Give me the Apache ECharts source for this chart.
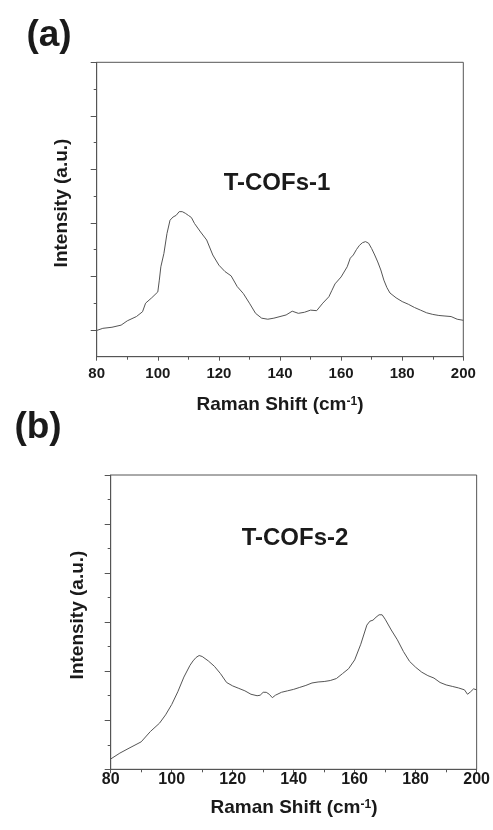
<!DOCTYPE html>
<html><head><meta charset="utf-8">
<script src="https://cdn.jsdelivr.net/npm/echarts@6/dist/echarts.min.js"></script>
<style>html,body{margin:0;padding:0;background:#fff}#c{width:493px;height:830px}</style>
</head><body><div id="c"></div>
<script>
// Panel (a) T-COFs-1
const shiftA = [80,82,85,88,90,93,95,96,98,100,100.5,101,102,103,104,105,106,107,108,109,110,111,112,114,116,118,120,122,124,126,128,130,132,134,136,138,140,142,144,146,148,150,152,154,156,157,158,160,162,163,164,165,166,167,168,169,170,171,172,173,174,175,176,178,180,182,184,186,188,190,192,194,196,198,200];
const intensityA = [0.49,0.53,0.55,0.59,0.67,0.75,0.84,1.00,1.10,1.21,1.43,1.68,1.93,2.30,2.55,2.61,2.64,2.71,2.71,2.68,2.64,2.60,2.49,2.33,2.18,1.90,1.71,1.59,1.51,1.31,1.18,1.00,0.81,0.72,0.70,0.72,0.75,0.78,0.85,0.81,0.83,0.87,0.86,1.00,1.12,1.24,1.36,1.49,1.68,1.84,1.90,2.00,2.08,2.13,2.15,2.12,2.02,1.90,1.77,1.62,1.43,1.29,1.19,1.10,1.03,0.98,0.92,0.87,0.82,0.79,0.77,0.76,0.75,0.70,0.68];
// Panel (b) T-COFs-2
const shiftB = [80,83,86,90,93,96,98,100,102,104,106,107,108,109,110,112,114,116,118,120,122,124,126,128,129,130,131,132,133,134,136,138,140,142,144,146,148,150,152,154,156,158,160,162,164,165,166,167,168,169,170,172,174,176,178,180,182,184,186,188,190,192,194,196,197,198,199,200];
const intensityB = [0.21,0.33,0.43,0.56,0.77,0.94,1.11,1.32,1.58,1.88,2.12,2.21,2.28,2.32,2.30,2.21,2.10,1.95,1.77,1.70,1.65,1.60,1.53,1.50,1.51,1.57,1.57,1.53,1.46,1.51,1.57,1.60,1.63,1.67,1.71,1.76,1.78,1.79,1.81,1.85,1.95,2.05,2.23,2.55,2.94,3.02,3.04,3.10,3.15,3.15,3.06,2.84,2.64,2.40,2.20,2.08,1.98,1.91,1.86,1.77,1.72,1.69,1.66,1.62,1.53,1.58,1.64,1.62];
const xMajor = [80,100,120,140,160,180,200];
const yMajorA = [0.5,1.5,2.5,3.5,4.5,5.5];
const yMinorA = [1,2,3,4,5];
const yMajorB = [0,1,2,3,4,5,6];
const yMinorB = [0.5,1.5,2.5,3.5,4.5,5.5];

const FONT = '"Liberation Sans", Arial, Helvetica, sans-serif';
const AX = '#555';
const TXT = '#1a1a1a';

function pairs(xs, ys){ return xs.map((x,i)=>[x, ys[i]]); }

function xAxisFor(grid, margin, fs){
  return {
    type:'value', gridIndex:grid, min:80, max:200, interval:20,
    axisLine:{show:true, lineStyle:{color:AX, width:1}},
    axisTick:{show:true, inside:false, length:4, lineStyle:{color:AX}},
    minorTick:{show:true, splitNumber:2, length:3, lineStyle:{color:AX}},
    splitLine:{show:false},
    axisLabel:{show:true, margin:margin, color:TXT, fontFamily:FONT, fontWeight:'bold', fontSize:fs,
      customValues: xMajor, showMinLabel:true, showMaxLabel:true}
  };
}
function yAxisPair(grid, max, majors, minors){
  return [
    {type:'value', gridIndex:grid, min:0, max:max,
     axisLine:{show:true, lineStyle:{color:AX, width:1}},
     axisTick:{show:true, inside:false, length:6, customValues:majors, lineStyle:{color:AX}},
     axisLabel:{show:false}, splitLine:{show:false}},
    {type:'value', gridIndex:grid, min:0, max:max, position:'left', offset:0,
     axisLine:{show:false},
     axisTick:{show:true, inside:false, length:3, customValues:minors, lineStyle:{color:AX}},
     axisLabel:{show:false}, splitLine:{show:false}}
  ];
}

const chart = echarts.init(document.getElementById('c'), null, {renderer:'canvas'});
const yA = yAxisPair(0, 5.5, yMajorA, yMinorA);
const yB = yAxisPair(1, 6, yMajorB, yMinorB);

const titleStyle = {fontFamily:FONT, fontWeight:'bold', fill:TXT};
function xTitle(x, y){
  return {type:'text', x:x, y:y, style:{text:'{a|Raman Shift (cm}{s|-1}{a|)}', textAlign:'center', textVerticalAlign:'middle',
      rich:{a:{fontFamily:FONT, fontWeight:'bold', fontSize:19, fill:TXT, color:TXT},
            s:{fontFamily:FONT, fontWeight:'bold', fontSize:12, fill:TXT, color:TXT, verticalAlign:'top', lineHeight:12}}}};
}
chart.setOption({
  animation:false,
  backgroundColor:'#fff',
  grid:[
    {left:96.7, top:62.3, width:366.6, height:294.4, show:true, borderColor:AX, borderWidth:1, backgroundColor:'transparent'},
    {left:110.7, top:475, width:366.6, height:294.3, show:true, borderColor:AX, borderWidth:1, backgroundColor:'transparent'}
  ],
  xAxis:[xAxisFor(0, 10, 15), xAxisFor(1, 2, 16)],
  yAxis:[yA[0], yA[1], yB[0], yB[1]],
  series:[
    {type:'line', xAxisIndex:0, yAxisIndex:0, data:pairs(shiftA,intensityA), showSymbol:false, smooth:false,
     lineStyle:{color:'#555', width:1}},
    {type:'line', xAxisIndex:1, yAxisIndex:2, data:pairs(shiftB,intensityB), showSymbol:false, smooth:false,
     lineStyle:{color:'#555', width:1}}
  ],
  graphic:[
    {type:'text', x:49, y:36, style:Object.assign({text:'(a)', fontSize:37, textAlign:'center', textVerticalAlign:'middle'}, titleStyle)},
    {type:'text', x:38, y:428, style:Object.assign({text:'(b)', fontSize:37, textAlign:'center', textVerticalAlign:'middle'}, titleStyle)},
    {type:'text', x:277, y:183, style:Object.assign({text:'T-COFs-1', fontSize:24, textAlign:'center', textVerticalAlign:'middle'}, titleStyle)},
    {type:'text', x:295, y:538, style:Object.assign({text:'T-COFs-2', fontSize:24, textAlign:'center', textVerticalAlign:'middle'}, titleStyle)},
    {type:'text', x:62, y:203, rotation:Math.PI/2, style:Object.assign({text:'Intensity (a.u.)', fontSize:19, textAlign:'center', textVerticalAlign:'middle'}, titleStyle)},
    {type:'text', x:78, y:615, rotation:Math.PI/2, style:Object.assign({text:'Intensity (a.u.)', fontSize:19, textAlign:'center', textVerticalAlign:'middle'}, titleStyle)},
    xTitle(280, 405),
    xTitle(294, 808)
  ]
});
</script></body></html>
